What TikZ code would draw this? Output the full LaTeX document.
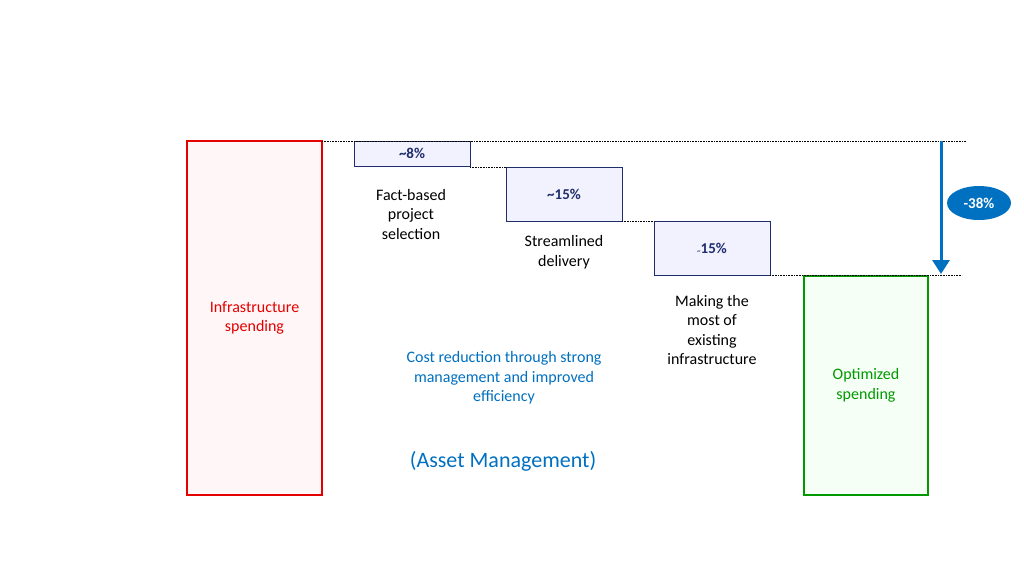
\documentclass[tikz,border=0pt]{standalone}
\usepackage{fontspec}
\setmainfont{Carlito}
\usetikzlibrary{arrows.meta,shapes.geometric}
\definecolor{navy}{HTML}{1F2D6B}
\definecolor{blu}{HTML}{0070C0}
\begin{document}
\begin{tikzpicture}[x=1pt,y=-1pt,
  stepbox/.style={draw=navy,fill=blue!5,line width=0.9pt,font=\fontsize{15}{15}\selectfont\bfseries,text=navy},
  lbl/.style={font=\fontsize{16}{19.5}\selectfont,align=center},
  dl/.style={densely dotted,line width=0.6pt}]
\useasboundingbox (0,0) rectangle (1024,576);
\fill[white] (0,0) rectangle (1024,576);
\draw[red!90!black,fill=red!3,line width=1.5pt] (187,141) rectangle node[lbl]{Infrastructure\\spending} (322,495);
\draw[green!60!black,fill=green!4,line width=1.5pt] (804,276) rectangle node[lbl]{Optimized\\spending} (928,495);
\draw[stepbox] (354,141) rectangle node(a){\~{}8\%} (470,166);
\draw[stepbox] (506,167) rectangle node(b){\~{}15\%} (622,221);
\draw[stepbox] (654,221) rectangle node(c){{\scriptsize\~{}}15\%} (770,275);
\draw[dl] (322,141) -- (966,141);
\draw[dl] (470,167) -- (506,167);
\draw[dl] (622,221) -- (654,221);
\draw[dl] (770,275) -- (962,275);
\node[lbl] at (411,214) {Fact-based\\project\\selection};
\node[lbl] at (564,252) {Streamlined\\delivery};
\node[lbl] at (712,330) {Making the\\most of\\existing\\infrastructure};
\node[lbl,text=blu] at (504,378) {Cost reduction through strong\\management and improved\\efficiency};
\node[font=\fontsize{22}{24}\selectfont,text=blu] at (503,461) {(Asset Management)};
\coordinate (t) at (941,141); \coordinate (e) at (941,274);
\draw[blu,line width=3pt,-{Triangle[length=14pt,width=17pt]}] (t) -- (e);
\node[ellipse,fill=blu,minimum width=64pt,minimum height=34pt,inner sep=0pt,text=white,font=\fontsize{15}{15}\selectfont\bfseries] at (979,203) {-38\%};
\end{tikzpicture}
\end{document}
